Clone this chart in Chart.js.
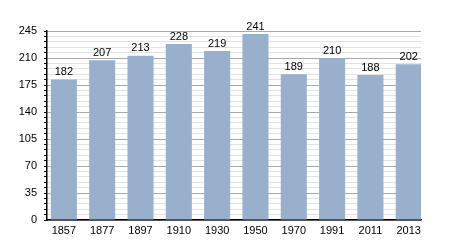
<!DOCTYPE html>
<html>
<head>
<meta charset="utf-8">
<script src="https://cdn.jsdelivr.net/npm/chart.js@4.4.1/dist/chart.umd.min.js"></script>
<style>
  html, body { margin: 0; padding: 0; background: #fff; }
  #wrap { width: 450px; height: 250px; }
</style>
</head>
<body>
<div id="wrap"><canvas id="popChart"></canvas></div>
<script>
const years = ['1857', '1877', '1897', '1910', '1930', '1950', '1970', '1991', '2011', '2013'];
const population = [182, 207, 213, 228, 219, 241, 189, 210, 188, 202];
const yTicks = [0, 35, 70, 105, 140, 175, 210, 245];

const FONT = '"Liberation Sans", Arial, sans-serif';

// value labels above each bar
const barLabels = {
  id: 'barLabels',
  afterDatasetsDraw(chart) {
    const ctx = chart.ctx;
    const meta = chart.getDatasetMeta(0);
    ctx.save();
    ctx.font = '11px ' + FONT;
    ctx.fillStyle = '#000';
    ctx.textAlign = 'center';
    ctx.textBaseline = 'bottom';
    meta.data.forEach((bar, i) => {
      ctx.fillText(population[i], bar.x, bar.y - 2);
    });
    ctx.restore();
  }
};

new Chart(document.getElementById('popChart'), {
  type: 'bar',
  data: {
    datasets: [{
      data: population.map((v, i) => ({ x: i, y: v })),
      backgroundColor: '#98b0cc',
      borderWidth: 0,
      categoryPercentage: 1,
      barPercentage: 0.68
    }]
  },
  options: {
    responsive: true,
    maintainAspectRatio: false,
    animation: false,
    layout: { padding: { top: 31, right: 29, left: 0, bottom: 0 } },
    plugins: { legend: { display: false }, tooltip: { enabled: false } },
    scales: {
      x: {
        type: 'linear',
        offset: false,
        min: -0.44,
        max: 9.32,
        grid: { display: false, drawTicks: false },
        border: { display: true, color: '#000', width: 1.5 },
        ticks: {
          color: '#000',
          font: { family: FONT, size: 11 },
          padding: 4,
          maxRotation: 0,
          autoSkip: false,
          callback: (v) => years[v]
        },
        afterBuildTicks(scale) { scale.ticks = years.map((_, i) => ({ value: i })); },
        afterFit(scale) { scale.height = 30; }
      },
      y: {
        min: yTicks[0],
        max: yTicks[yTicks.length - 1],
        ticks: {
          stepSize: 7,
          autoSkip: false,
          color: '#000',
          padding: 7,
          font: { family: FONT, size: 11 },
          callback: (v) => yTicks.includes(v) ? v : ''
        },
        grid: {
          color: (c) => yTicks.includes(c.tick.value) ? '#a8a8a8' : '#e2e2e2',
          tickColor: '#000',
          tickLength: 3,
          lineWidth: 1
        },
        border: { display: true, color: '#000', width: 1.5 },
        afterFit(scale) { scale.width = 47; }
      }
    }
  },
  plugins: [barLabels]
});
</script>
</body>
</html>
